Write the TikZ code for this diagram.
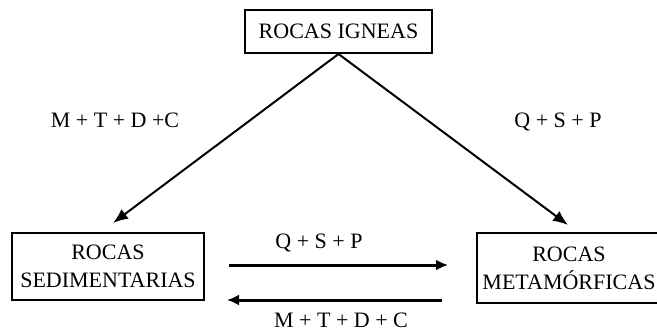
\documentclass[tikz,border=0pt]{standalone}
\usepackage{fontspec}
\setmainfont{Liberation Serif}
\usetikzlibrary{arrows.meta}
\begin{document}
\begin{tikzpicture}[x=1pt,y=-1pt,
  every node/.style={font=\fontsize{22}{28}\selectfont, inner sep=0pt},
  rockbox/.style={draw, line width=2pt, align=center},
  lbl/.style={},
  diag/.style={line width=2pt, -{Latex[length=15pt,width=12pt]}},
  horiz/.style={line width=3pt, -{Latex[length=12pt,width=11pt]}}]
\useasboundingbox (0,0) rectangle (657,333);
\fill[white] (0,0) rectangle (657,333);
\node[rockbox, minimum width=187pt, minimum height=43pt] (ig) at (338.5,31.5) {ROCAS IGNEAS};
\node[rockbox, minimum width=192pt, minimum height=67pt] (sed) at (108,266.5) {ROCAS\\SEDIMENTARIAS};
\node[rockbox, minimum width=185pt, minimum height=70pt] (met) at (569,268) {ROCAS\\METAMÓRFICAS};
\node[lbl] (l1) at (115,120) {M + T + D +C};
\node[lbl] (l2) at (558,122) {Q + S + P};
\node[lbl] (l3) at (319,243) {Q + S + P};
\node[lbl] (l4) at (341,320) {M + T + D + C};
\coordinate (sedtip) at (113,223);
\coordinate (mettip) at (568,225);
\coordinate (a1s) at (229,265);
\coordinate (a1e) at (448,265);
\coordinate (a2s) at (442,300);
\coordinate (a2e) at (227,300);
\draw[diag] (ig.south) -- (sedtip);
\draw[diag] (ig.south) -- (mettip);
\draw[horiz] (a1s) -- (a1e);
\draw[horiz] (a2s) -- (a2e);
\end{tikzpicture}
\end{document}
